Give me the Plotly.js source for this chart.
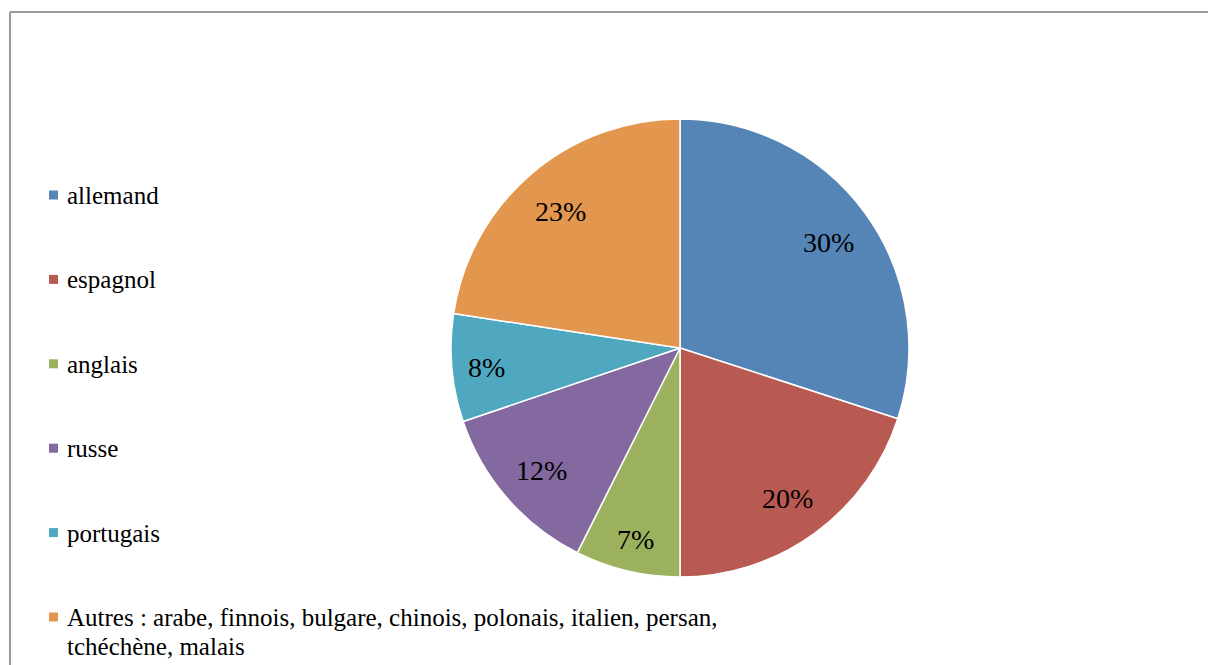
<!DOCTYPE html>
<html>
<head>
<meta charset="utf-8">
<script src="https://cdn.plot.ly/plotly-3.0.1.min.js"></script>
<style>
html,body{margin:0;padding:0;background:#fff;}
#chart{width:1208px;height:665px;}
</style>
</head>
<body>
<div id="chart"></div>
<script>
const labels = ["allemand", "espagnol", "anglais", "russe", "portugais", "Autres : arabe, finnois, bulgare, chinois, polonais, italien, persan,<br>tchéchène, malais"];
const values = [30.0, 20.0, 7.4, 12.4, 7.6, 22.6];
const colors = ["#5585B7", "#B95A52", "#9BB15E", "#8469A0", "#4FA8C0", "#E2964E"];

const W = 1208, H = 665;
const cxPx = 680, cyPx = 348, R = 229;
const FONT = "Liberation Serif, Times New Roman, serif";

const total = values.reduce((a, b) => a + b, 0);
const annotations = [];
const shapes = [];

// percentage labels along slice bisectors
let cum = 0;
values.forEach((v, i) => {
  const mid = (cum + v / 2) / total * 2 * Math.PI;
  cum += v;
  const frac = v / total < 0.1 ? 0.85 : 0.8;
  const px = cxPx + frac * R * Math.sin(mid);
  const py = cyPx - frac * R * Math.cos(mid) + 2;
  annotations.push({
    x: px / W, y: 1 - py / H, xref: "paper", yref: "paper",
    text: Math.round(v / total * 100) + "%",
    showarrow: false, xanchor: "center", yanchor: "middle",
    font: {family: FONT, size: 28, color: "#000"}
  });
});

// legend
labels.forEach((lab, i) => {
  const yPx = 195 + i * 84.4;
  shapes.push({
    type: "rect", xref: "paper", yref: "paper",
    x0: 49 / W, x1: 58 / W, y0: 1 - (yPx - 4.5) / H, y1: 1 - (yPx + 4.5) / H,
    fillcolor: colors[i], line: {width: 0}
  });
  lab.split("<br>").forEach((line, j) => {
    annotations.push({
      x: 65 / W, y: 1 - (yPx - 15 + j * 29) / H, xref: "paper", yref: "paper",
      text: line, showarrow: false, xanchor: "left", yanchor: "top", align: "left",
      font: {family: FONT, size: 25, color: "#000"}
    });
  });
});

// frame
shapes.push({type: "line", xref: "paper", yref: "paper", x0: 10 / W, x1: 1, y0: 1 - 12 / H, y1: 1 - 12 / H, line: {color: "#9a9a9a", width: 2}});
shapes.push({type: "line", xref: "paper", yref: "paper", x0: 10 / W, x1: 10 / W, y0: 1 - 12 / H, y1: 0, line: {color: "#9a9a9a", width: 2}});

const trace = {
  type: "pie",
  labels: labels,
  values: values,
  sort: false,
  direction: "clockwise",
  rotation: 0,
  marker: {colors: colors, line: {color: "#fff", width: 1.5}},
  textinfo: "none",
  hoverinfo: "label+percent",
  showlegend: false,
  domain: {x: [(cxPx - R) / W, (cxPx + R) / W], y: [1 - (cyPx + R) / H, 1 - (cyPx - R) / H]}
};

Plotly.newPlot("chart", [trace], {
  width: W, height: H,
  margin: {l: 0, r: 0, t: 0, b: 0},
  paper_bgcolor: "#fff",
  showlegend: false,
  annotations: annotations,
  shapes: shapes
}, {displayModeBar: false, staticPlot: true});
</script>
</body>
</html>
